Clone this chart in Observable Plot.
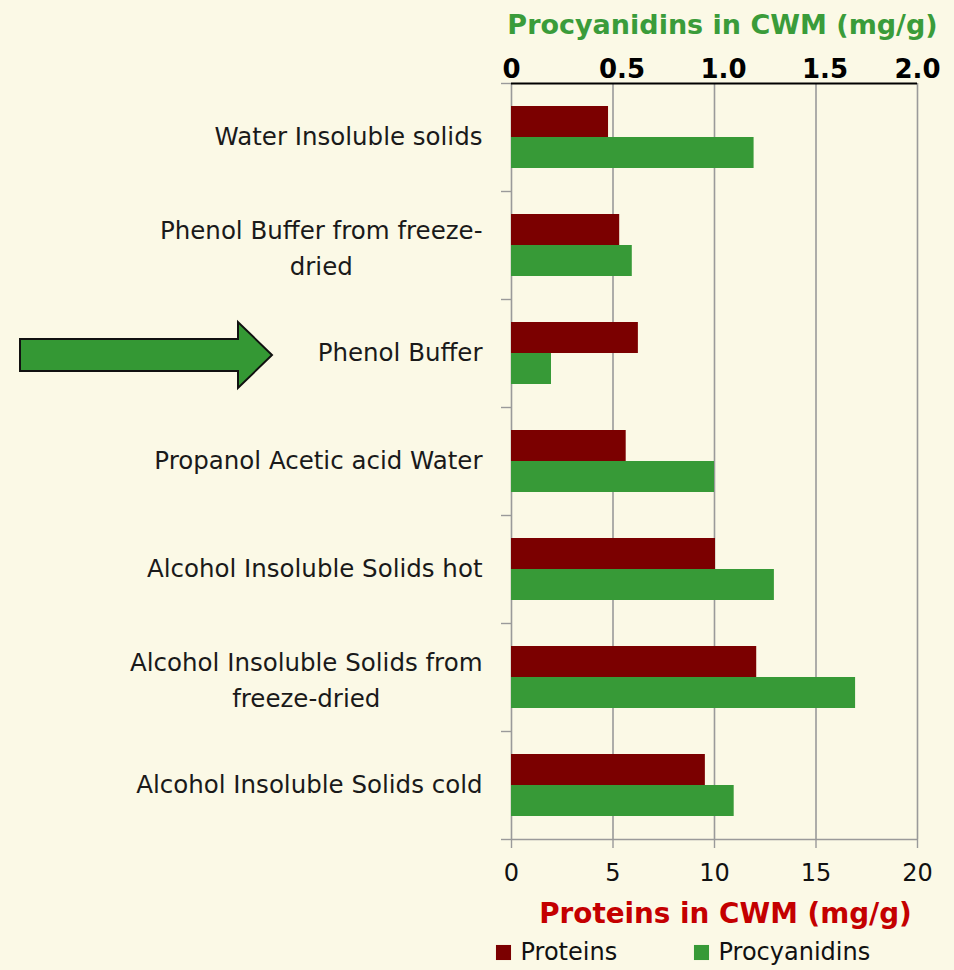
<!DOCTYPE html>
<html><head><meta charset="utf-8">
<script src="https://cdn.jsdelivr.net/npm/d3@7"></script>
<script src="https://cdn.jsdelivr.net/npm/@observablehq/plot@0.6"></script>
<style>
html,body{margin:0;padding:0;background:#fbf9e6;}
#chart svg{display:block;}
</style></head><body>
<div id="chart"></div>
<script>
// ---- data ----
const categories = [
  "Water Insoluble solids",
  "Phenol Buffer from freeze-dried",
  "Phenol Buffer",
  "Propanol Acetic acid Water",
  "Alcohol Insoluble Solids hot",
  "Alcohol Insoluble Solids from freeze-dried",
  "Alcohol Insoluble Solids cold"
];
const categoryLabelLines = [
  ["Water Insoluble solids"],
  ["Phenol Buffer from freeze-", "dried"],
  ["Phenol Buffer"],
  ["Propanol Acetic acid Water"],
  ["Alcohol Insoluble Solids hot"],
  ["Alcohol Insoluble Solids from", "freeze-dried"],
  ["Alcohol Insoluble Solids cold"]
];
const proteins = [4.78, 5.33, 6.25, 5.65, 10.05, 12.08, 9.55];       // mg/g, bottom axis 0–20
const procyanidins = [1.195, 0.595, 0.197, 1.0, 1.295, 1.695, 1.097]; // mg/g, top axis 0–2.0
const bottomTicks = [0, 5, 10, 15, 20];
const topTickLabels = ["0", "0.5", "1.0", "1.5", "2.0"];
const seriesNames = ["Proteins", "Procyanidins"];
const highlighted = "Phenol Buffer";

// ---- style ----
const FONT = "'Comic Sans MS', 'DejaVu Sans', sans-serif";
const BG = "#fbf9e6";
const RED = "#7b0000";
const GREEN = "#379a37";
const W = 954, H = 970;
const mt = 83, mb = 131, ml = 511, mr = 37;
const padInner = 0.426;
const step = (H - mt - mb) / categories.length;
const bw = step * (1 - padInner);
const LABEL_FS = 24.5;

const rows = categories.map((c, i) => ({cat: c, protein: proteins[i], procy: procyanidins[i] * 10}));

// measure label widths for centered multi-line labels
const ctx = document.createElement("canvas").getContext("2d");
ctx.font = `${LABEL_FS}px ${FONT}`;
const LABEL_GAP = 29;
const labelMarks = categories.map((c, i) => {
  const lines = categoryLabelLines[i];
  if (lines.length === 1) {
    return Plot.text([c], {y: d => d, text: () => lines[0], frameAnchor: "left", textAnchor: "end",
      dx: -LABEL_GAP, fontSize: LABEL_FS, fill: "#1a1a1a"});
  }
  const w = Math.max(...lines.map(l => ctx.measureText(l).width));
  return Plot.text([c], {y: d => d, text: () => lines.join("\n"), frameAnchor: "left", textAnchor: "middle",
    dx: -LABEL_GAP - w / 2, lineHeight: 36 / LABEL_FS, fontSize: LABEL_FS, fill: "#1a1a1a"});
});

const topFmt = d => topTickLabels[bottomTicks.indexOf(d)];

const plot = Plot.plot({
  width: W, height: H,
  marginTop: mt, marginBottom: mb, marginLeft: ml, marginRight: mr,
  style: {background: BG, fontFamily: FONT, color: "#111"},
  x: {domain: [0, 20], label: null},
  y: {domain: categories, paddingInner: padInner, paddingOuter: padInner / 2, label: null},
  marks: [
    Plot.gridX({ticks: bottomTicks, stroke: "#9a9a9a", strokeOpacity: 1, strokeWidth: 1.6}),
    Plot.barX(rows, {y: "cat", x: "protein", fill: RED, insetBottom: bw / 2}),
    Plot.barX(rows, {y: "cat", x: "procy", fill: GREEN, insetTop: bw / 2}),
    // bottom axis line and row-boundary ticks
    Plot.ruleY([categories[categories.length - 1]], {dy: step / 2, stroke: "#9a9a9a", strokeWidth: 1.6}),
    Plot.axisY({ticks: categories, tickSize: 10, tickFormat: () => "", dy: -step / 2, stroke: "#9a9a9a", strokeWidth: 1.4, label: null}),
    Plot.axisY({ticks: [categories[categories.length - 1]], tickSize: 10, tickFormat: () => "", dy: step / 2, stroke: "#9a9a9a", strokeWidth: 1.4, label: null}),
    // top axis (procyanidins)
    Plot.ruleY([categories[0]], {dy: -step / 2, stroke: "#000", strokeWidth: 2.2}),
    Plot.axisX({anchor: "top", ticks: [0, 20], tickSize: 0, tickPadding: 6,
      tickFormat: topFmt, fontSize: 26, fontWeight: "bold", fill: "#000", label: null}),
    Plot.axisX({anchor: "top", ticks: [5, 10, 15], tickSize: 0, tickPadding: 6, dx: 9,
      tickFormat: topFmt, fontSize: 26, fontWeight: "bold", fill: "#000", label: null}),
    Plot.text(["Procyanidins in CWM (mg/g)"], {frameAnchor: "top", dy: -58, dx: 8, fontSize: 27, fontWeight: "bold", fill: "#3a9c3a", lineAnchor: "middle"}),
    // bottom axis (proteins)
    Plot.axisX({anchor: "bottom", ticks: bottomTicks, tickSize: 9, tickPadding: 15, stroke: "#9a9a9a", strokeWidth: 1.4,
      fontSize: 24, fill: "#111", label: null}),
    Plot.text(["Proteins in CWM (mg/g)"], {frameAnchor: "bottom", dy: 75, dx: 11, fontSize: 27.8, fontWeight: "bold", fill: "#c40000", lineAnchor: "middle"}),
    // legend
    Plot.dot([seriesNames[0]], {frameAnchor: "bottom-left", dx: -8, dy: 113, symbol: "square", r: 8.5, fill: RED}),
    Plot.text([seriesNames[0]], {frameAnchor: "bottom-left", dx: 9, dy: 113, textAnchor: "start", lineAnchor: "middle", fontSize: 24, fill: "#111"}),
    Plot.dot([seriesNames[1]], {frameAnchor: "bottom-left", dx: 190, dy: 113, symbol: "square", r: 8.5, fill: GREEN}),
    Plot.text([seriesNames[1]], {frameAnchor: "bottom-left", dx: 207, dy: 113, textAnchor: "start", lineAnchor: "middle", fontSize: 24, fill: "#111"}),
    ...labelMarks
  ]
});
document.getElementById("chart").appendChild(plot);

// highlight arrow pointing to the highlighted category
const ys = plot.scale("y");
const cy = ys.apply(highlighted) + ys.bandwidth / 2 + 2;
const ax0 = 20, axHead = 238, axTip = 272, body = 16, head = 33;
d3.select(plot).append("path")
  .attr("d", `M${ax0},${cy - body}H${axHead}V${cy - head}L${axTip},${cy}L${axHead},${cy + head}V${cy + body}H${ax0}Z`)
  .attr("fill", "#349834").attr("stroke", "#111").attr("stroke-width", 2);
</script>
</body></html>
